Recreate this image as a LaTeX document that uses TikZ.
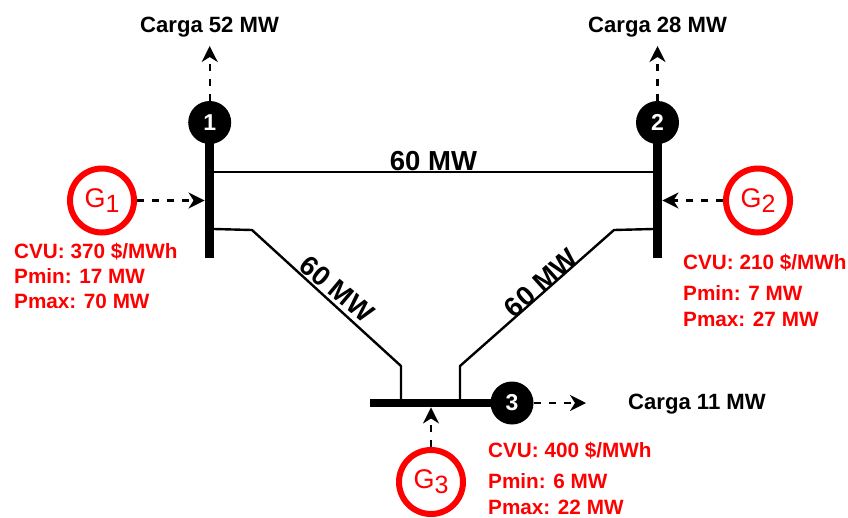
\documentclass[tikz,border=0pt]{standalone}
\usepackage{fontspec}
\setmainfont{Liberation Sans}
\usetikzlibrary{arrows.meta}
\tikzset{
  busdot/.style={circle,fill=black,minimum size=43pt,inner sep=0pt,text=white,font=\fontsize{23}{23}\selectfont\bfseries},
  busbar/.style={rectangle,fill=black,inner sep=0pt},
  gen/.style={circle,draw=red,line width=6pt,fill=white,minimum size=64pt,inner sep=0pt,text=red,font=\fontsize{27}{27}\selectfont},
  flow/.style={dash pattern=on 7pt off 8pt,line width=2.3pt,-{Stealth[length=16pt,width=16pt,inset=5pt]}},
  tie/.style={line width=2.4pt,line join=round},
  loadlabel/.style={anchor=base west,inner sep=0pt,font=\fontsize{22.1}{22.1}\selectfont\bfseries},
  info/.style={anchor=base west,inner sep=0pt,text=red,font=\fontsize{20.7}{20.7}\selectfont\bfseries},
  caplabel/.style={inner sep=0pt,font=\fontsize{27.5}{27.5}\selectfont\bfseries},
}
\newcommand{\gensub}[1]{G\raisebox{-5pt}{\fontsize{25}{25}\selectfont #1}}
\begin{document}
\begin{tikzpicture}[x=1pt,y=-1pt]
\useasboundingbox (0,0) rectangle (848,517);
% bus bars
\node[busbar,minimum width=9.5pt,minimum height=138pt] (bar1) at (209.5,189) {};
\node[busbar,minimum width=9.5pt,minimum height=138pt] (bar2) at (657.5,189) {};
\node[busbar,minimum width=125pt,minimum height=8.5pt] (bar3) at (432.5,403) {};
% bus dots
\node[busdot] (b1) at (209.7,122.5) {1};
\node[busdot] (b2) at (657.5,122.5) {2};
\node[busdot] (b3) at (512,403) {3};
% generators
\node[gen] (g1) at (102,200.5) {\gensub{1}};
\node[gen] (g2) at (758,200.5) {\gensub{2}};
\node[gen] (g3) at (431,482) {\gensub{3}};
% tie-lines
\coordinate (t1) at (214,172);
\coordinate (t2) at (653,172);
\coordinate (l1) at (214,229);
\coordinate (l2) at (252,230);
\coordinate (l3) at (401,366);
\coordinate (l4) at (401,399);
\coordinate (r1) at (653,229);
\coordinate (r2) at (614,230);
\coordinate (r3) at (460,366);
\coordinate (r4) at (460,399);
\draw[tie] (t1) -- (t2);
\draw[tie] (l1) -- (l2) -- (l3) -- (l4);
\draw[tie] (r1) -- (r2) -- (r3) -- (r4);
% load and generation flows
\coordinate (u1) at (209.7,46);
\coordinate (u2) at (657.5,46);
\coordinate (u3) at (586,403);
\draw[flow] (b1.north) -- (u1);
\draw[flow] (b2.north) -- (u2);
\draw[flow] (b3.east) -- (u3);
\draw[flow] (g1.east) -- (g1.east -| bar1.west);
\draw[flow] (g2.west) -- (g2.west -| bar2.east);
\draw[flow] (g3.north) -- (g3.north |- bar3.south);
% labels
\node[loadlabel] (c1) at (140,32) {Carga 52 MW};
\node[loadlabel] (c2) at (588,32) {Carga 28 MW};
\node[loadlabel] (c3) at (628,409) {Carga 11 MW};
\node[caplabel] (m1) at (433.5,161) {60 MW};
\node[caplabel,rotate=-40] (m2) at (337,289) {60 MW};
\node[caplabel,rotate=42] (m3) at (541,283) {60 MW};
\node[info] (i1a) at (14,258) {CVU: 370 \$/MWh};
\node[info] (i1b) at (14,283) {Pmin: 17 MW};
\node[info] (i1c) at (14,308) {Pmax: 70 MW};
\node[info] (i2a) at (683,269) {CVU: 210 \$/MWh};
\node[info] (i2b) at (683,300) {Pmin: 7 MW};
\node[info] (i2c) at (683,326) {Pmax: 27 MW};
\node[info] (i3a) at (488,457) {CVU: 400 \$/MWh};
\node[info] (i3b) at (488,488) {Pmin: 6 MW};
\node[info] (i3c) at (488,514) {Pmax: 22 MW};
\end{tikzpicture}
\end{document}
